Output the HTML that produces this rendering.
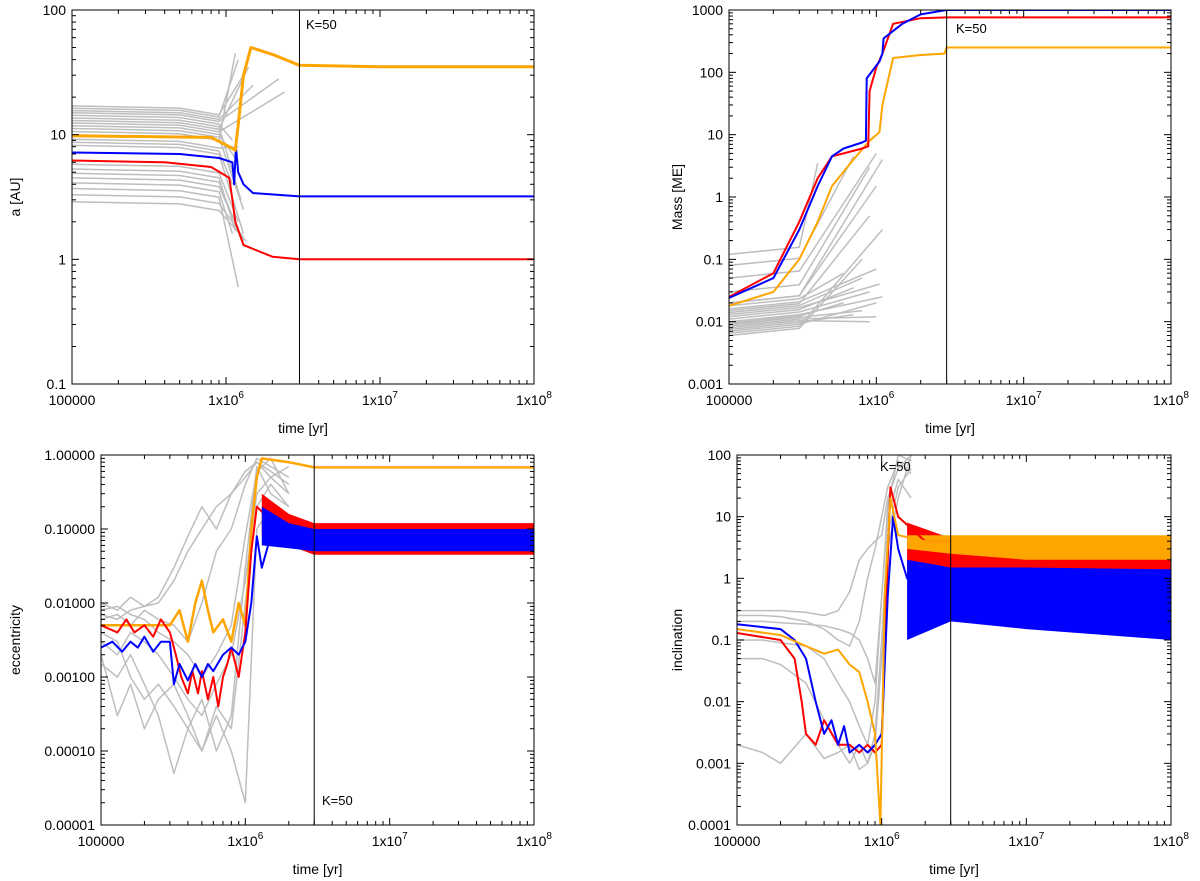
<!DOCTYPE html>
<html><head><meta charset="utf-8"><style>
body{margin:0;background:#fff;}
svg{display:block;font-family:"Liberation Sans",sans-serif;}
</style></head><body>
<svg id="fig" width="1200" height="881" viewBox="0 0 1200 881"></svg>
<script>
// ---------- DATA ----------
const xTickLabels = ["100000","1x10^6","1x10^7","1x10^8"];
const kTime = 3e6;
// Panel A: semi-major axis
const aOrange = [[1e5,9.8],[8e5,9.5],[1.05e6,8],[1.15e6,7.5],[1.2e6,12],[1.3e6,30],[1.45e6,50],[2e6,44],[3e6,36],[1e7,35],[1e8,35]];
const aBlue = [[1e5,7.2],[5e5,7.0],[9e5,6.5],[1.1e6,6],[1.13e6,4],[1.16e6,8],[1.2e6,5],[1.3e6,4],[1.5e6,3.4],[3e6,3.2],[1e8,3.2]];
const aRed = [[1e5,6.2],[4e5,6.0],[8e5,5.5],[1.05e6,4.5],[1.1e6,3],[1.15e6,2],[1.3e6,1.3],[2e6,1.05],[3e6,1.0],[1e8,1.0]];
const aGrayStart = [17,16.3,15.6,15,14.3,13.6,13,12.4,11.8,11.2,10.6,9.2,8.7,8.2,5.8,5.3,4.9,4.5,4.1,3.7,3.3,2.9];
const aGrayEndT = [1.3e6,1.2e6,1.5e6,2.2e6,1.1e6,1.25e6,1.4e6,2.4e6,1.2e6,1.3e6,1.15e6,1.2e6,1.1e6,1.3e6,1.2e6,1.15e6,1.25e6,1.3e6,1.1e6,1.2e6,1.3e6,1.35e6];
const aGrayEndV = [30,40,25,28,9,3,35,22,6,2.5,45,8,4,1.6,2,1.7,1.5,1.4,1.6,0.6,1.5,1.4];
// Panel B: mass
const mBlue = [[1e5,0.024],[2e5,0.05],[3e5,0.3],[4e5,1.5],[5e5,4.5],[6e5,6],[8e5,7.5],[8.5e5,8],[8.6e5,80],[1.05e6,150],[1.1e6,200],[1.12e6,350],[1.5e6,600],[2e6,850],[3e6,1000],[1e8,1000]];
const mRed = [[1e5,0.025],[2e5,0.06],[3e5,0.4],[4e5,2],[5e5,4.5],[6e5,5],[8e5,6],[8.8e5,6.5],[9e5,50],[1e6,120],[1.1e6,200],[1.3e6,600],[2e6,740],[3e6,760],[1e8,760]];
const mOrange = [[1e5,0.018],[2e5,0.03],[3e5,0.1],[4e5,0.4],[5e5,1.5],[7e5,4],[9e5,8],[1.05e6,11],[1.1e6,30],[1.3e6,170],[2e6,190],[2.9e6,200],[3e6,250],[1e8,250]];
const mGrayStart = [0.12,0.08,0.05,0.03,0.02,0.018,0.016,0.014,0.013,0.012,0.011,0.01,0.0095,0.009,0.0085,0.008,0.0075,0.007,0.0065,0.006,0.02,0.015];
const mGrayEndT = [4e5,7e5,1e6,9e5,1.1e6,6e5,1e6,8e5,1.05e6,7e5,9e5,1.1e6,6e5,8e5,1e6,9e5,7e5,1e6,1.1e6,8e5,1e6,9e5];
const mGrayEndV = [3.5,4.5,5,3,4,0.06,0.07,0.05,0.04,0.035,0.03,0.025,0.02,0.015,0.012,0.01,0.013,0.02,0.3,0.1,1.5,0.5];
// Panel C: eccentricity
const eOrange = [[1e5,0.005],[2e5,0.005],[3e5,0.005],[3.5e5,0.008],[4e5,0.003],[4.5e5,0.01],[5e5,0.02],[5.5e5,0.008],[6e5,0.004],[7e5,0.006],[8e5,0.003],[9e5,0.01],[1e6,0.005],[1.1e6,0.1],[1.2e6,0.5],[1.3e6,0.9],[2e6,0.8],[3e6,0.68],[1e8,0.68]];
const eRed = [[1e5,0.005],[1.3e5,0.004],[1.5e5,0.006],[1.7e5,0.004],[2e5,0.005],[2.3e5,0.0035],[2.6e5,0.006],[3e5,0.004],[3.3e5,0.002],[3.6e5,0.001],[4e5,0.0006],[4.3e5,0.0012],[4.7e5,0.0006],[5e5,0.0012],[5.5e5,0.0005],[6e5,0.001],[6.5e5,0.0004],[7e5,0.001],[7.5e5,0.0015],[8e5,0.0025],[9e5,0.001],[1e6,0.004],[1.1e6,0.05],[1.2e6,0.2],[1.4e6,0.15]];
const eBlue = [[1e5,0.0025],[1.2e5,0.003],[1.4e5,0.0022],[1.6e5,0.003],[1.8e5,0.0025],[2e5,0.0035],[2.3e5,0.0022],[2.6e5,0.003],[3e5,0.003],[3.2e5,0.0008],[3.5e5,0.0015],[4e5,0.0009],[4.5e5,0.0015],[5e5,0.001],[5.5e5,0.0015],[6e5,0.0012],[7e5,0.002],[8e5,0.0025],[9e5,0.002],[1e6,0.003],[1.1e6,0.01],[1.2e6,0.08],[1.3e6,0.03],[1.5e6,0.08]];
const eBandT = [1.3e6,2e6,3e6,1e8];
const eRedHi = [0.3,0.16,0.12,0.12];
const eRedLo = [0.08,0.06,0.045,0.045];
const eBlueHi = [0.2,0.12,0.1,0.1];
const eBlueLo = [0.06,0.055,0.05,0.05];
const eGrayT = [1e5,1.3e5,1.6e5,2e5,2.5e5,3.2e5,4e5,5e5,6.3e5,8e5,1e6,1.2e6,1.5e6,2e6];
const eGray1 = [0.01,0.008,0.012,0.009,0.01,0.02,0.05,0.1,0.2,0.3,0.5,0.8,0.6,0.4];
const eGray2 = [0.006,0.007,0.005,0.008,0.006,0.005,0.003,0.01,0.05,0.1,0.4,0.9,0.7,0.5];
const eGray3 = [0.003,0.002,0.004,0.003,0.002,0.001,0.0005,0.0003,0.0008,0.002,0.02,0.3,0.5,0.3];
const eGray4 = [0.002,0.0003,0.0008,0.0002,0.0005,0.0008,0.0003,0.0001,0.0004,0.0002,0.01,0.2,0.4,0.2];
const eGray5 = [0.008,0.009,0.007,0.006,0.004,0.003,0.002,0.001,0.002,0.005,0.08,0.6,0.9,0.3];
const eGray6 = [0.004,0.003,0.001,0.0005,0.0008,0.0004,0.0002,0.0005,0.0001,0.0003,0.03,0.7,0.3,0.2];
const eGray7 = [0.007,0.006,0.008,0.009,0.012,0.03,0.08,0.2,0.1,0.3,0.6,0.8,0.5,0.7];
const eGray8 = [0.0015,0.001,0.002,0.0008,0.0003,0.00005,0.0002,0.0001,0.0003,0.0001,0.00002,0.1,0.2,0.15];
// Panel D: inclination
const iBlue = [[1e5,0.18],[2e5,0.15],[2.5e5,0.1],[3e5,0.05],[3.5e5,0.01],[4e5,0.003],[4.5e5,0.005],[5e5,0.002],[5.5e5,0.004],[6e5,0.0015],[7e5,0.002],[8e5,0.0015],[9e5,0.002],[1e6,0.003],[1.1e6,0.5],[1.2e6,10],[1.3e6,3],[1.5e6,1],[2e6,0.5],[3e6,1]];
const iRed = [[1e5,0.13],[2e5,0.1],[2.5e5,0.05],[2.8e5,0.01],[3e5,0.003],[3.5e5,0.002],[4e5,0.005],[5e5,0.002],[6e5,0.002],[7e5,0.0015],[8e5,0.002],[9e5,0.0015],[1e6,0.002],[1.1e6,2],[1.15e6,30],[1.3e6,10],[2e6,4],[3e6,4]];
const iOrange = [[1e5,0.15],[2e5,0.12],[3e5,0.08],[4e5,0.06],[5e5,0.07],[6e5,0.04],[7e5,0.03],[8e5,0.01],[9e5,0.003],[9.8e5,0.0001],[1.05e6,0.5],[1.15e6,20],[1.3e6,5],[2e6,4],[3e6,4],[1e8,4.5]];
const iBandT = [1.5e6,3e6,1e7,1e8];
const iRedHi = [8,4.5,4.5,4.5];
const iRedLo = [1,0.5,0.3,0.2];
const iBlueHi = [2,1.5,1.5,1.4];
const iBlueLo = [0.1,0.2,0.15,0.1];
const iOrHi = [5,5,5,5];
const iOrLo = [3,2.5,2,2];
const iGrayT = [1e5,1.5e5,2e5,3e5,4e5,5e5,6e5,7e5,8e5,9e5,1e6,1.1e6,1.3e6,1.6e6];
const iGray1 = [0.3,0.3,0.3,0.28,0.25,0.3,0.6,2,3,4,5,20,60,100];
const iGray2 = [0.25,0.25,0.24,0.2,0.15,0.1,0.08,0.2,1,3,10,30,80,50];
const iGray3 = [0.1,0.1,0.09,0.08,0.05,0.02,0.01,0.004,0.002,0.01,0.5,10,40,20];
const iGray4 = [0.05,0.05,0.04,0.02,0.005,0.002,0.001,0.002,0.001,0.003,0.1,5,30,60];
const iGray5 = [0.2,0.2,0.19,0.18,0.17,0.15,0.13,0.1,0.05,0.02,0.5,15,100,80];
const iGray6 = [0.002,0.0015,0.001,0.003,0.0012,0.0015,0.002,0.0008,0.001,0.002,0.05,3,20,100];

// ---------- DRAW ----------
const NS="http://www.w3.org/2000/svg";
const svg=document.getElementById('fig');
function mk(tag,attrs,parent){const e=document.createElementNS(NS,tag);for(const k in attrs)e.setAttribute(k,attrs[k]);(parent||svg).appendChild(e);return e;}
const GRAY="#bebebe",RED="#ff0000",BLUE="#0000ff",ORANGE="#ffa500";

function makePanel(p){
  const g=mk('g',{});
  
  
  const lx=Math.log10;
  const X=t=>p.x0+(lx(t)-5)/3*(p.x1-p.x0);
  const Y=v=>p.y1-(lx(v)-p.ymin)/(p.ymax-p.ymin)*(p.y1-p.y0);
  const clip='c'+p.name;
  const cp=mk('clipPath',{id:clip},g);
  mk('rect',{x:p.x0,y:p.y0,width:p.x1-p.x0,height:p.y1-p.y0},cp);
  const plot=mk('g',{'clip-path':'url(#'+clip+')'},g);
  const line=(pts,col,w,nm)=>{
    const d=pts.map((q,i)=>(i?'L':'M')+X(q[0]).toFixed(1)+','+Y(q[1]).toFixed(1)).join('');
    const e=mk('path',{d:d,fill:'none',stroke:col,'stroke-width':w,'stroke-linejoin':'round'},plot);
    
    
  };
  const band=(ts,hi,lo,col,nm)=>{
    let d=ts.map((t,i)=>(i?'L':'M')+X(t).toFixed(1)+','+Y(hi[i]).toFixed(1)).join('');
    for(let i=ts.length-1;i>=0;i--)d+='L'+X(ts[i]).toFixed(1)+','+Y(lo[i]).toFixed(1);
    const e=mk('path',{d:d+'Z',fill:col,stroke:'none'},plot);
    
    
  };
  p.draw(line,band);
  const kv=mk('line',{x1:X(kTime),x2:X(kTime),y1:p.y0,y2:p.y1,stroke:'#000','stroke-width':1},g);
  
  
  const kt=mk('text',{x:p.kx,y:p.ky,'font-size':13},g);kt.textContent='K=50';
  
  
  const fr=mk('rect',{x:p.x0,y:p.y0,width:p.x1-p.x0,height:p.y1-p.y0,fill:'none',stroke:'#000','stroke-width':1},g);
  
  
  for(let d=5;d<=8;d++){
    for(let m=1;m<10;m++){
      if(d===8&&m>1)break;
      const x=X(m*Math.pow(10,d));const L=m===1?7:4;
      mk('line',{x1:x,x2:x,y1:p.y1,y2:p.y1-L,stroke:'#000'},g);
      mk('line',{x1:x,x2:x,y1:p.y0,y2:p.y0+L,stroke:'#000'},g);
    }
    const lab=xTickLabels[d-5];
    const tx=mk('text',{x:X(Math.pow(10,d)),y:p.y1+21,'font-size':14,'text-anchor':'middle'},g);
    if(lab.includes('^')){const[a,b]=lab.split('^');tx.textContent=a;const s=mk('tspan',{dy:-7,'font-size':10},tx);s.textContent=b;}
    else tx.textContent=lab;
    
    
  }
  for(let d=p.ymin;d<=p.ymax;d++){
    for(let m=1;m<10;m++){
      if(d===p.ymax&&m>1)break;
      const y=Y(m*Math.pow(10,d));const L=m===1?7:4;
      mk('line',{x1:p.x0,x2:p.x0+L,y1:y,y2:y,stroke:'#000'},g);
      mk('line',{x1:p.x1,x2:p.x1-L,y1:y,y2:y,stroke:'#000'},g);
    }
    const ty=mk('text',{x:p.x0-6,y:Y(Math.pow(10,d))+5,'font-size':14,'text-anchor':'end'},g);
    ty.textContent=p.ylabels[d-p.ymin];
    
    
  }
  const xt=mk('text',{x:(p.x0+p.x1)/2,y:p.y1+49,'font-size':14,'text-anchor':'middle'},g);xt.textContent='time [yr]';
  
  
  const cy=(p.y0+p.y1)/2;
  const yt=mk('text',{x:p.ytx,y:cy,'font-size':14,'text-anchor':'middle',transform:'rotate(-90 '+p.ytx+' '+cy+')'},g);yt.textContent=p.ytitle;
  
  
}

makePanel({name:'panel-semimajor-axis',x0:72,x1:534,y0:10,y1:384,ymin:-1,ymax:2,ylabels:['0.1','1','10','100'],ytitle:'a [AU]',ytx:20,kx:306,ky:29,
 draw:(line,band)=>{
  aGrayStart.forEach((s,i)=>line([[1e5,s],[5e5,s*0.96],[9e5,s*0.85],[aGrayEndT[i],aGrayEndV[i]]],GRAY,1.5,'gray-planet-line'));
  line(aRed,RED,2,'red-planet-line');line(aBlue,BLUE,2,'blue-planet-line');line(aOrange,ORANGE,3,'orange-planet-line');
 }});
makePanel({name:'panel-mass',x0:729,x1:1171,y0:10,y1:384,ymin:-3,ymax:3,ylabels:['0.001','0.01','0.1','1','10','100','1000'],ytitle:'Mass [ME]',ytx:682,kx:956,ky:33,
 draw:(line,band)=>{
  mGrayStart.forEach((s,i)=>line([[1e5,s],[3e5,s*1.3],[mGrayEndT[i],mGrayEndV[i]]],GRAY,1.5,'gray-planet-line'));
  line(mOrange,ORANGE,2,'orange-planet-line');line(mRed,RED,2,'red-planet-line');line(mBlue,BLUE,2,'blue-planet-line');
 }});
makePanel({name:'panel-eccentricity',x0:101,x1:534,y0:455,y1:825,ymin:-5,ymax:0,ylabels:['0.00001','0.00010','0.00100','0.01000','0.10000','1.00000'],ytitle:'eccentricity',ytx:20,kx:322,ky:805,
 draw:(line,band)=>{
  [eGray1,eGray2,eGray3,eGray4,eGray5,eGray6,eGray7,eGray8].forEach(arr=>line(eGrayT.map((t,i)=>[t,arr[i]]),GRAY,1.5,'gray-planet-line'));
  line(eOrange,ORANGE,2.5,'orange-planet-line');line(eRed,RED,2,'red-planet-line');line(eBlue,BLUE,2,'blue-planet-line');
  band(eBandT,eRedHi,eRedLo,RED,'red-eccentricity-band');band(eBandT,eBlueHi,eBlueLo,BLUE,'blue-eccentricity-band');
 }});
makePanel({name:'panel-inclination',x0:737,x1:1171,y0:455,y1:825,ymin:-4,ymax:2,ylabels:['0.0001','0.001','0.01','0.1','1','10','100'],ytitle:'inclination',ytx:682,kx:880,ky:471,
 draw:(line,band)=>{
  [iGray1,iGray2,iGray3,iGray4,iGray5,iGray6].forEach(arr=>line(iGrayT.map((t,i)=>[t,arr[i]]),GRAY,1.5,'gray-planet-line'));
  band(iBandT,iRedHi,iRedLo,RED,'red-inclination-band');
  band(iBandT,iOrHi,iOrLo,ORANGE,'orange-inclination-band');
  band(iBandT,iBlueHi,iBlueLo,BLUE,'blue-inclination-band');
  line(iRed,RED,2,'red-planet-line');line(iBlue,BLUE,2,'blue-planet-line');line(iOrange,ORANGE,2,'orange-planet-line');
 }});
</script>
</body></html>
